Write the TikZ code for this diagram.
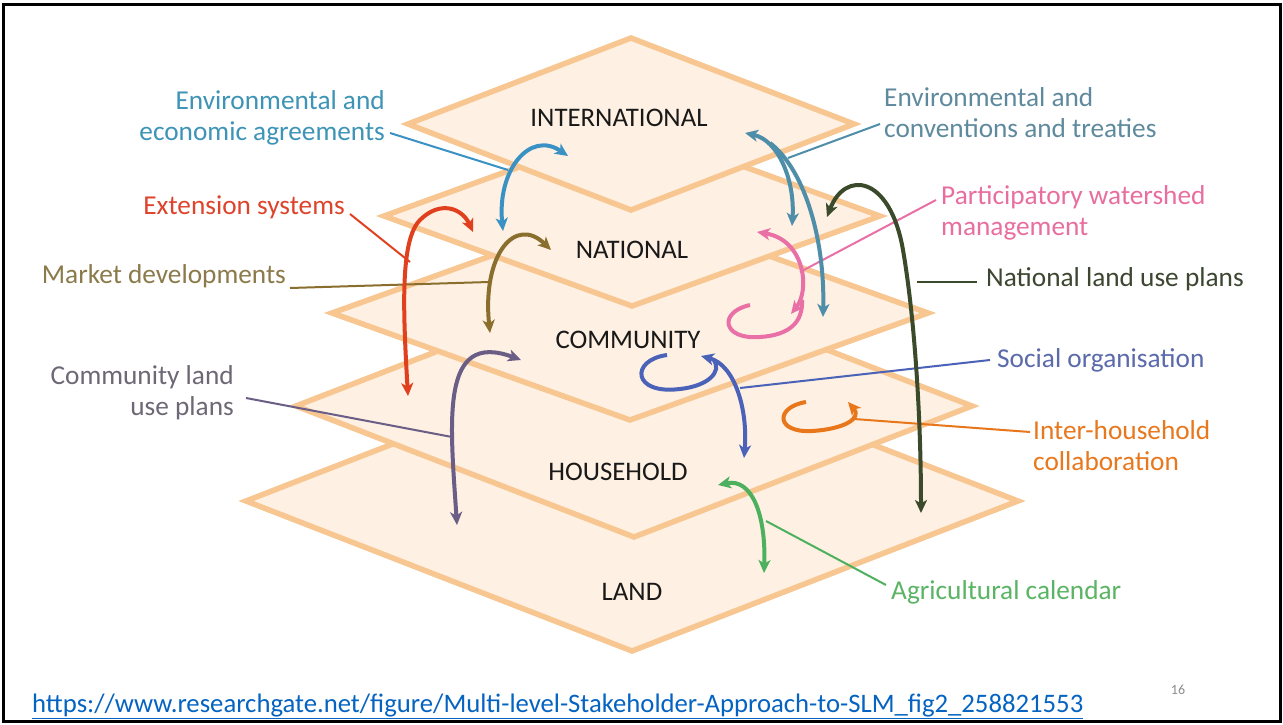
\documentclass[tikz,border=0pt]{standalone}
\usepackage{fontspec}
\setmainfont{Carlito}
\usetikzlibrary{arrows.meta}
\definecolor{layerfill}{HTML}{FEF0E2}
\definecolor{layerdraw}{HTML}{F8C690}
\definecolor{tAgr}{HTML}{3E94B6}
\definecolor{aAgr}{HTML}{3A92C4}
\definecolor{tConv}{HTML}{5F8A9E}
\definecolor{aConv}{HTML}{4E8EA8}
\definecolor{tExt}{HTML}{DE442C}
\definecolor{aExt}{HTML}{E0401E}
\definecolor{tMkt}{HTML}{8B7A4A}
\definecolor{aMkt}{HTML}{8A6E2E}
\definecolor{tCom}{HTML}{6E6876}
\definecolor{aCom}{HTML}{6A5E86}
\definecolor{tPart}{HTML}{E86EA0}
\definecolor{aPart}{HTML}{E870A6}
\definecolor{tNat}{HTML}{3C4630}
\definecolor{aNat}{HTML}{3A4A2A}
\definecolor{tSoc}{HTML}{5A6AAA}
\definecolor{aSoc}{HTML}{4A62B8}
\definecolor{tInt}{HTML}{E8781E}
\definecolor{aInt}{HTML}{E8761A}
\definecolor{tAgc}{HTML}{5AB464}
\definecolor{aAgc}{HTML}{4DB05E}
\definecolor{urlblue}{HTML}{0563C1}
\newcommand\layerdiamond[4]{%
  \filldraw[layer] ({#1-#3},#2) -- (#1,{#2-#4}) -- ({#1+#3},#2) -- (#1,{#2+#4}) -- cycle;}
\begin{document}
\begin{tikzpicture}[x=1pt,y=-1pt,
  layer/.style={fill=layerfill,draw=layerdraw,line width=5.5pt,line join=miter},
  lab/.style={font=\fontsize{27.3}{31}\selectfont,inner sep=0pt},
  lvl/.style={font=\fontsize{26.8}{31}\selectfont,inner sep=0pt,text=black!90},
  arr/.style={line width=4pt},
  lline/.style={line width=2pt},
  >={Stealth[length=13pt,width=12pt,inset=3.5pt]}]
\useasboundingbox (0,0) rectangle (1283,725);
\fill[white] (0,0) rectangle (1283,725);
\draw[line width=3pt] (3,5) rectangle (1280,721);

% layers, bottom first
\layerdiamond{632}{501}{386}{150}
\layerdiamond{634}{406}{338}{131}
\layerdiamond{630}{313}{298}{107}
\layerdiamond{632}{216}{248}{90}
\layerdiamond{631}{124}{223}{86}

% level labels
\node[lvl] (intl) at (619,118) {INTERNATIONAL};
\node[lvl] (natl) at (632,250) {NATIONAL};
\node[lvl] (comm) at (628,340) {COMMUNITY};
\node[lvl] (hous) at (618,472) {HOUSEHOLD};
\node[lvl] (land) at (632,592) {LAND};

% side labels
\node[lab,text=tAgr,align=right,anchor=east] (lAgr) at (385,118) {Environmental and\\economic agreements};
\node[lab,text=tExt,anchor=east] (lExt) at (345,207) {Extension systems};
\node[lab,text=tMkt,anchor=east] (lMkt) at (286,276) {Market developments};
\node[lab,text=tCom,align=right,anchor=east] (lCom) at (234,393) {Community land\\use plans};
\node[lab,text=tConv,align=left,anchor=west] (lConv) at (884,113) {Environmental and\\conventions and treaties};
\node[lab,text=tPart,align=left,anchor=west] (lPart) at (941,213) {Participatory watershed\\management};
\node[lab,text=tNat,anchor=west] (lNat) at (986,279) {National land use plans};
\node[lab,text=tSoc,anchor=west] (lSoc) at (997,360) {Social organisation};
\node[lab,text=tInt,align=left,anchor=west] (lInt) at (1033,446) {Inter-household\\collaboration};
\node[lab,text=tAgc,anchor=west] (lAgc) at (891,592) {Agricultural calendar};

% leader line coordinates
\coordinate (pAgrA) at (390,133); \coordinate (pAgrB) at (508,170);
\coordinate (pConvA) at (880,124); \coordinate (pConvB) at (788,158);
\coordinate (pExtA) at (350,214); \coordinate (pExtB) at (410,262);
\coordinate (pMktA) at (290,288); \coordinate (pMktB) at (489,282);
\coordinate (pComA) at (246,398); \coordinate (pComB) at (452,437);
\coordinate (pPartA) at (936,200); \coordinate (pPartB) at (800,272);
\coordinate (pNatA) at (977,282); \coordinate (pNatB) at (917,282);
\coordinate (pSocA) at (990,360); \coordinate (pSocB) at (740,388);
\coordinate (pIntA) at (1030,432); \coordinate (pIntB) at (854,419);
\coordinate (pAgcA) at (886,585); \coordinate (pAgcB) at (766,521);

\draw[lline,aAgr] (pAgrA) -- (pAgrB);
\draw[lline,aConv] (pConvA) -- (pConvB);
\draw[lline,aExt] (pExtA) -- (pExtB);
\draw[lline,aMkt] (pMktA) -- (pMktB);
\draw[lline,aCom] (pComA) -- (pComB);
\draw[lline,aPart] (pPartA) -- (pPartB);
\draw[lline,aNat] (pNatA) -- (pNatB);
\draw[lline,aSoc] (pSocA) -- (pSocB);
\draw[lline,aInt] (pIntA) -- (pIntB);
\draw[lline,aAgc] (pAgcA) -- (pAgcB);

% arrow end points
\coordinate (bA1) at (503,231); \coordinate (bA2) at (568,156);
\coordinate (cA1) at (745,133); \coordinate (cA2) at (792,226);
\coordinate (cB1) at (770,143); \coordinate (cB2) at (823,317);
\coordinate (rA1) at (408,396); \coordinate (rA2) at (473,232);
\coordinate (mA1) at (490,333); \coordinate (mA2) at (551,250);
\coordinate (uA1) at (457,525); \coordinate (uA2) at (521,360);
\coordinate (kA1) at (757,232); \coordinate (kA2) at (791,314);
\coordinate (kL1) at (750,305); \coordinate (kL2) at (802,300);
\coordinate (nA1) at (827,217); \coordinate (nA2) at (921,513);
\coordinate (sL1) at (667,355); \coordinate (sL2) at (714,360);
\coordinate (sA1) at (701,356); \coordinate (sA2) at (744,458);
\coordinate (oL1) at (806,402); \coordinate (oL2) at (848,402);
\coordinate (gA1) at (718,485); \coordinate (gA2) at (764,573);

% arrows
\draw[arr,aAgr,<->] (bA1) .. controls (497,170) and (530,130) .. (bA2);
\draw[arr,aConv,<->] (cA1) .. controls (778,140) and (795,180) .. (cA2);
\draw[arr,aConv,->] (cB1) .. controls (805,170) and (825,240) .. (cB2);
\draw[arr,aExt,<->] (rA1) .. controls (403,310) and (400,240) .. (420,220) .. controls (440,200) and (462,208) .. (rA2);
\draw[arr,aMkt,<->] (mA1) .. controls (482,255) and (515,215) .. (mA2);
\draw[arr,aCom,<->] (uA1) .. controls (450,420) and (440,330) .. (uA2);
\draw[arr,aPart,<->] (kA1) .. controls (805,240) and (810,290) .. (kA2);
\draw[arr,aPart] (kL1) .. controls (718,312) and (722,340) .. (760,337) .. controls (790,335) and (803,322) .. (kL2);
\draw[arr,aNat,<->] (nA1) .. controls (845,170) and (890,175) .. (903,250) .. controls (915,320) and (921,420) .. (nA2);
\draw[arr,aSoc] (sL1) .. controls (630,360) and (632,395) .. (680,389) .. controls (708,386) and (722,372) .. (sL2);
\draw[arr,aSoc,<->] (sA1) .. controls (735,365) and (748,410) .. (sA2);
\draw[arr,aInt,->] (oL1) .. controls (775,407) and (775,433) .. (812,431) .. controls (845,429) and (862,418) .. (oL2);
\draw[arr,aAgc,<->] (gA1) .. controls (752,478) and (766,515) .. (gA2);

% footer
\node[font=\fontsize{26.7}{30}\selectfont,text=urlblue,anchor=base west,inner sep=0pt] (url) at (32,712)
  {\underline{https://www.researchgate.net/figure/Multi-level-Stakeholder-Approach-to-SLM\_fig2\_258821553}};
\node[font=\fontsize{14}{16}\selectfont,text=black!45,inner sep=0pt] (pnum) at (1178,690) {16};
\end{tikzpicture}
\end{document}
